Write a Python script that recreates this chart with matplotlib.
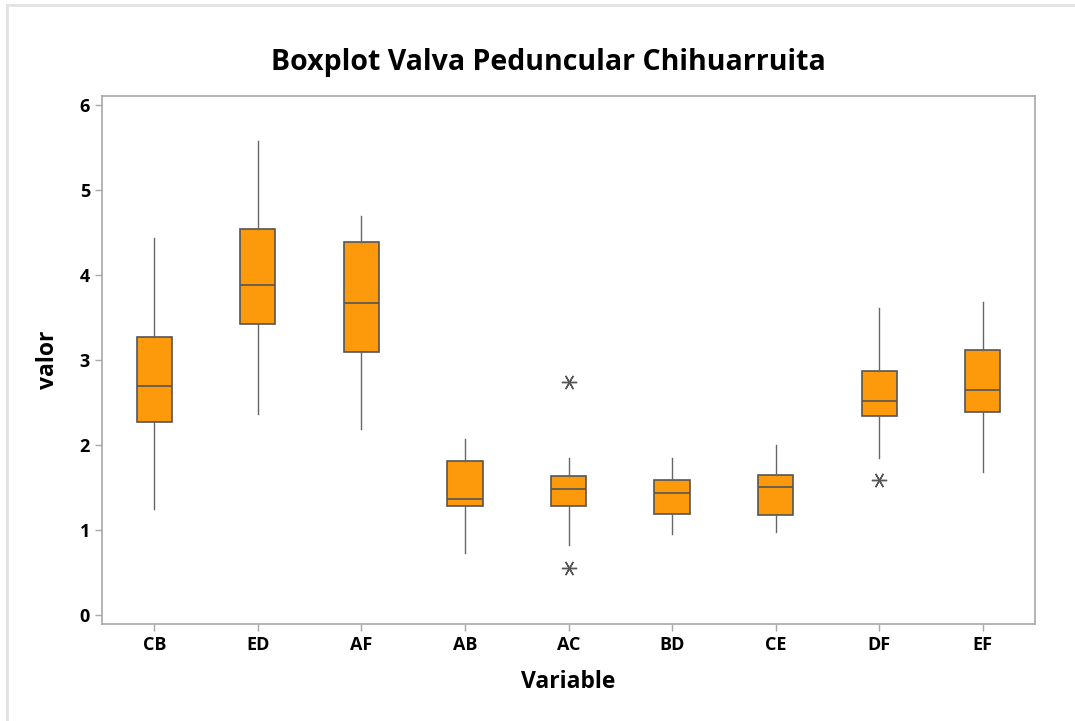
import matplotlib
matplotlib.use("Agg")
import matplotlib.pyplot as plt
from matplotlib.lines import Line2D

# summary values
categories = ['CB', 'ED', 'AF', 'AB', 'AC', 'BD', 'CE', 'DF', 'EF']
whisker_low = [1.24, 2.36, 2.19, 0.73, 0.82, 0.95, 0.97, 1.85, 1.68]
q1 = [2.27, 3.42, 3.09, 1.28, 1.28, 1.19, 1.17, 2.34, 2.38]
median = [2.69, 3.88, 3.67, 1.36, 1.48, 1.43, 1.50, 2.51, 2.65]
q3 = [3.27, 4.54, 4.39, 1.81, 1.63, 1.58, 1.65, 2.87, 3.11]
whisker_high = [4.43, 5.58, 4.69, 2.07, 1.85, 1.85, 2.00, 3.61, 3.68]
outliers = [[], [], [], [], [2.74, 0.55], [], [], [1.59], []]

plt.rcParams['font.family'] = ['Open Sans', 'DejaVu Sans']

fig = plt.figure(figsize=(10.75, 7.21), dpi=100)
ax = fig.add_axes([0.0946, 0.1345, 0.8682, 0.7324])

stats = []
for i in range(len(categories)):
    stats.append({
        'label': categories[i],
        'whislo': whisker_low[i],
        'q1': q1[i],
        'med': median[i],
        'q3': q3[i],
        'whishi': whisker_high[i],
        'fliers': outliers[i],
    })

edge = '#555555'
ax.bxp(stats, positions=range(1, len(categories) + 1), widths=0.34,
       patch_artist=True, showcaps=False,
       boxprops=dict(facecolor='#FD9A0B', edgecolor=edge, linewidth=1.2),
       medianprops=dict(color=edge, linewidth=1.2),
       whiskerprops=dict(color='#666666', linewidth=1.0),
       flierprops=dict(marker=(6, 2, 90), markersize=11, markeredgecolor='#555555',
                       markerfacecolor='none', markeredgewidth=1.0))

ax.set_xlim(0.492, 9.505)
ax.set_ylim(-0.11, 6.106)
ax.set_yticks(range(0, 7))

for s in ax.spines.values():
    s.set_color('#a8a8a8')
    s.set_linewidth(1.2)
ax.tick_params(axis='both', colors='#a8a8a8', length=5, width=1.0,
               labelcolor='black', labelsize=13)
for lab in ax.get_xticklabels() + ax.get_yticklabels():
    lab.set_fontweight('bold')

ax.set_xlabel('Variable', fontsize=16.5, fontweight='bold', labelpad=12)
ax.set_ylabel('valor', fontsize=16.5, fontweight='bold', labelpad=14)
fig.text(0.51, 0.914, 'Boxplot Valva Peduncular Chihuarruita', ha='center', va='center',
         fontsize=20.5, fontweight='bold')

# light outer frame
fig.add_artist(Line2D([7 / 1075, 1], [1 - 5 / 721, 1 - 5 / 721], color='#e2e2e2', linewidth=2))
fig.add_artist(Line2D([7 / 1075, 7 / 1075], [0, 1 - 5 / 721], color='#e2e2e2', linewidth=2))

fig.savefig('out.png', dpi=100)
